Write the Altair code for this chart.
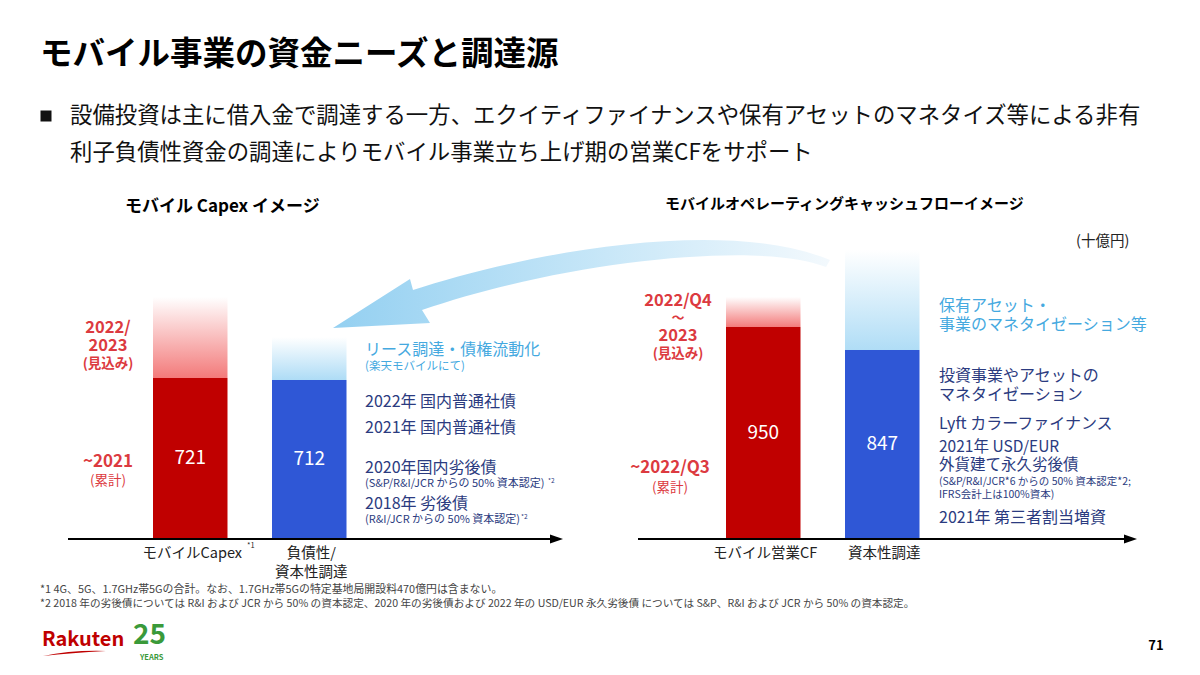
import altair as alt
import pandas as pd

# ---------------- data ----------------
left_categories = ["モバイルCapex", "負債性/資本性調達"]
left_axis_labels = ["モバイルCapex", "負債性/\n資本性調達"]
left_actual = [721, 712]          # ~2021 cumulative (十億円)
left_outlook_top = [1086, 905]    # faded "見込み" extension (illustrative)

right_categories = ["モバイル営業CF", "資本性調達"]
right_axis_labels = ["モバイル営業CF", "資本性調達"]
right_actual = [950, 847]
right_outlook_top = [1086, 1297]

RED = "#c00000"
BLUE = "#2f57d6"
LABEL_RED = "#dc3a40"
LIGHT_BLUE = "#45a9df"
NAVY = "#2b3b80"
FONT = "Noto Sans CJK JP"
OFF = 8


def px(v):
    return v - OFF


ONE = pd.DataFrame({"k": [0]})


def txt(s, x, y, size, color="#222222", weight="normal", align="left",
        baseline="middle"):
    return alt.Chart(ONE).mark_text(
        text=s, fontSize=size, color=color, fontWeight=weight, align=align,
        baseline=baseline, font=FONT
    ).encode(x=alt.value(px(x)), y=alt.value(px(y)))


def shape(path, x, y, fill):
    return alt.Chart(ONE).mark_point(
        shape=path, size=4, filled=True, fill=fill, strokeWidth=0, opacity=1
    ).encode(x=alt.value(px(x)), y=alt.value(px(y)))


def grad_v(top, bottom):
    return alt.LinearGradient(
        gradient="linear", x1=0, x2=0, y1=0, y2=1,
        stops=[alt.GradientStop(offset=0, color=top),
               alt.GradientStop(offset=1, color=bottom)])


yscale = alt.Scale(domain=[0, 1300], range=[px(538), px(538) - 1300 * 0.222],
                   nice=False, zero=True)


def panel(cats, labels, actual, top, x0, x1, fades, label_dx):
    df = pd.DataFrame({"cat": cats, "label": labels, "actual": actual, "top": top})
    xs = alt.Scale(domain=cats, range=[px(x0), px(x1)], paddingInner=0.374,
                   paddingOuter=0)
    X = alt.X("cat:N", scale=xs, axis=None, sort=cats)
    base = alt.Chart(df)
    layers = []
    for c, fade in zip(cats, fades):
        layers.append(
            base.transform_filter(alt.datum.cat == c).mark_bar(
                fill=fade, strokeWidth=0
            ).encode(x=X, y=alt.Y("top:Q", scale=yscale, axis=None),
                     y2=alt.Y2("actual:Q"))
        )
    layers.append(
        base.mark_bar(strokeWidth=0).encode(
            x=X, y=alt.Y("actual:Q", scale=yscale, axis=None),
            color=alt.Color("cat:N", scale=alt.Scale(domain=cats, range=[RED, BLUE]),
                            legend=None))
    )
    layers.append(
        base.transform_calculate(mid="datum.actual / 2").mark_text(
            color="white", fontSize=19, font=FONT, baseline="middle"
        ).encode(x=X, y=alt.Y("mid:Q", scale=yscale, axis=None),
                 text=alt.Text("actual:Q"))
    )
    layers.append(
        base.mark_text(
            color="#222222", fontSize=14.5, font=FONT, baseline="top",
            lineBreak="\n", lineHeight=19, dx=label_dx
        ).encode(x=X, y=alt.value(px(547)), text="label:N")
    )
    return alt.layer(*layers)


left_panel = panel(left_categories, left_axis_labels, left_actual, left_outlook_top,
                   153, 346.5,
                   [grad_v("#ffffff", "#f37a7a"), grad_v("#ffffff", "#aedcf6")], 2)
right_panel = panel(right_categories, right_axis_labels, right_actual, right_outlook_top,
                    726, 919.5,
                    [grad_v("#ffffff", "#f37a7a"), grad_v("#ffffff", "#b0ddf6")], 2)

# decorative curved arrow (right panel -> left panel)
swoosh_path = ("M-247,38 L-170,-11 L-167,0 C-60,-35 140,-75 250,-30 "
               "L246,-23 C180,-50 -20,-28 -158,20 L-150,33 Z")
swoosh_fill = alt.LinearGradient(
    gradient="linear", x1=0, x2=1, y1=0, y2=0,
    stops=[alt.GradientStop(offset=0, color="#94d0f1"),
           alt.GradientStop(offset=0.55, color="#c8e7f8"),
           alt.GradientStop(offset=1, color="#f3f9fd")])
swoosh = shape(swoosh_path, 580, 290, swoosh_fill)

arrow_head = "M-7,-4.5 L6,0 L-7,4.5 Z"


def axis_arrow(x_start, x_tip, y):
    line = alt.Chart(ONE).mark_rule(color="#000000", strokeWidth=2).encode(
        x=alt.value(px(x_start)), x2=alt.value(px(x_tip - 6)), y=alt.value(px(y)))
    head = shape(arrow_head, x_tip - 6, y, "#000000")
    return [line, head]


texts = [
    txt("モバイル事業の資金ニーズと調達源", 40, 55, 32.5, "#000000", "bold"),
    shape("M-5.5,-5.5 H5.5 V5.5 H-5.5 Z", 46, 116, "#111111"),
    txt("設備投資は主に借入金で調達する一方、エクイティファイナンスや保有アセットのマネタイズ等による非有",
        70, 116, 22.4, "#111111"),
    txt("利子負債性資金の調達によりモバイル事業立ち上げ期の営業CFをサポート",
        70, 153, 22.4, "#111111"),
    txt("モバイル Capex イメージ", 125, 207, 17, "#000000", "bold"),
    txt("モバイルオペレーティングキャッシュフローイメージ", 665, 204, 15, "#000000", "bold"),
    txt("(十億円)", 1076, 242, 14.5, "#222222"),
    # left panel labels
    txt("2022/", 108, 328, 16.5, LABEL_RED, "bold", "center"),
    txt("2023", 108, 346, 16.5, LABEL_RED, "bold", "center"),
    txt("(見込み)", 108, 364, 13.5, LABEL_RED, "bold", "center"),
    txt("~2021", 108, 462, 17, LABEL_RED, "bold", "center"),
    txt("(累計)", 108, 481, 13.5, LABEL_RED, "normal", "center"),
    txt("*1", 247, 546, 7.5, "#222222", "normal", "left"),
    txt("リース調達・債権流動化", 365, 350, 16, LIGHT_BLUE),
    txt("(楽天モバイルにて)", 365, 367, 11.5, LIGHT_BLUE),
    txt("2022年 国内普通社債", 365, 402, 16, NAVY),
    txt("2021年 国内普通社債", 365, 428, 16, NAVY),
    txt("2020年国内劣後債", 365, 468, 16, NAVY),
    txt("(S&P/R&I/JCR からの 50% 資本認定)", 365, 484, 11, NAVY),
    txt("*2", 548, 481, 6.5, NAVY),
    txt("2018年 劣後債", 365, 504, 16, NAVY),
    txt("(R&I/JCR からの 50% 資本認定)", 365, 520, 11, NAVY),
    txt("*2", 521, 517, 6.5, NAVY),
    # right panel labels
    txt("2022/Q4", 678, 301, 16.5, LABEL_RED, "bold", "center"),
    txt("～", 678, 318, 13, LABEL_RED, "bold", "center"),
    txt("2023", 678, 336, 16.5, LABEL_RED, "bold", "center"),
    txt("(見込み)", 678, 354, 13.5, LABEL_RED, "bold", "center"),
    txt("~2022/Q3", 670, 468, 17, LABEL_RED, "bold", "center"),
    txt("(累計)", 670, 488, 13.5, LABEL_RED, "normal", "center"),
    txt("保有アセット・", 939, 306, 16, LIGHT_BLUE),
    txt("事業のマネタイゼーション等", 939, 325, 16, LIGHT_BLUE),
    txt("投資事業やアセットの", 939, 376, 16, NAVY),
    txt("マネタイゼーション", 939, 395, 16, NAVY),
    txt("Lyft カラーファイナンス", 939, 424, 16, NAVY),
    txt("2021年 USD/EUR", 939, 447, 15.5, NAVY),
    txt("外貨建て永久劣後債", 939, 465, 15.5, NAVY),
    txt("(S&P/R&I/JCR*6 からの 50% 資本認定*2;", 939, 482, 10.5, NAVY),
    txt("IFRS会計上は100%資本)", 939, 495, 10.5, NAVY),
    txt("2021年 第三者割当増資", 939, 518, 16, NAVY),
    # footnotes
    txt("*1  4G、5G、1.7GHz帯5Gの合計。なお、1.7GHz帯5Gの特定基地局開設料470億円は含まない。",
        40, 590, 10.9, "#444444"),
    txt("*2 2018 年の劣後債については R&I および JCR から 50% の資本認定、2020 年の劣後債および 2022 年の USD/EUR 永久劣後債 については S&P、R&I および JCR から 50% の資本認定。",
        40, 604, 10.65, "#444444"),
    # logo & page number
    txt("Rakuten", 42, 640, 20, "#bf0000", "bold"),
    shape("M-33,3 Q-5,-3 30,-2 Q-5,0 -33,3 Z", 76, 653, "#bf0000"),
    txt("25", 133, 636, 28, "#3a9a3a", "bold"),
    txt("YEARS", 140, 658, 7.5, "#3a9a3a", "bold"),
    txt("71", 1156, 646, 13, "#000000", "bold", "center"),
]

layers = [swoosh, left_panel, right_panel]
layers += axis_arrow(68, 563, 539)
layers += axis_arrow(638, 1137, 539)
layers += texts

chart = alt.layer(*layers).resolve_scale(x="independent").properties(
    width=1184, height=659,
    autosize=alt.AutoSizeParams(type="none"),
    padding=0,
    background="white",
).configure_view(stroke=None)

chart.save("out.html", embed_options={"renderer": "svg", "actions": False})
